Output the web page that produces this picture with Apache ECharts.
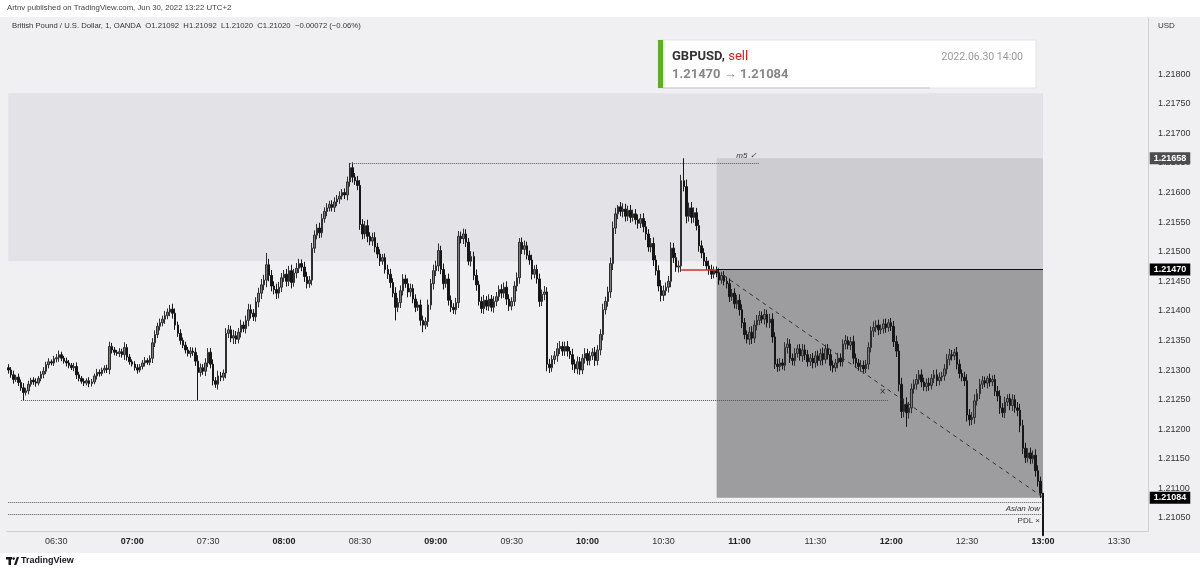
<!DOCTYPE html>
<html>
<head>
<meta charset="utf-8">
<title>GBPUSD 1m</title>
<script src="https://cdn.jsdelivr.net/npm/echarts@6/dist/echarts.min.js"></script>
<style>
html, body { margin: 0; padding: 0; background: #fff; }
#main { width: 1200px; height: 573px; }
</style>
</head>
<body>
<div id="main"></div>
<script>
// prices are kept in pips above 1.21000
var basePrice = 1.21;
var firstOpen = 30.4;

// one close per minute, 06:11 .. 13:00
var closes = [
    30.0, 29.2, 28.4, 28.8, 27.9, 27.0, 26.2, 26.5, 27.6, 28.3,
    28.0, 27.8, 28.6, 29.3, 29.8, 30.9, 31.4, 31.2, 31.9, 32.1,
    32.6, 32.0, 31.5, 31.2, 30.8, 30.4, 30.6, 29.2, 28.6, 28.1,
    27.8, 28.2, 27.7, 28.0, 29.0, 29.6, 29.4, 30.0, 30.3, 30.1,
    34.0, 33.4, 33.0, 32.8, 33.1, 32.6, 33.8, 32.2, 31.4, 31.0,
    30.4, 30.0, 30.6, 31.2, 31.6, 31.3, 32.0, 34.6, 36.0, 37.4,
    38.0, 38.6, 39.2, 39.8, 40.3, 39.6, 37.6, 36.2, 35.0, 34.2,
    33.4, 32.8, 33.2, 33.0, 31.5, 29.6, 30.4, 29.8, 31.2, 33.0,
    31.0, 28.2, 27.6, 29.0, 28.8, 29.5, 36.2, 36.8, 35.4, 35.8,
    35.2, 36.4, 37.6, 37.0, 38.4, 40.2, 39.6, 39.0, 41.5, 43.0,
    44.4, 45.2, 47.8, 46.0, 44.2, 43.6, 43.0, 44.0, 45.6, 46.2,
    45.0, 46.8, 44.8, 46.4, 47.2, 48.0, 47.4, 45.8, 44.6, 45.2,
    50.6, 52.8, 54.0, 53.2, 55.6, 56.8, 57.4, 58.0, 57.5, 58.4,
    58.9, 59.4, 60.0, 59.6, 61.8, 64.2, 62.6, 62.0, 61.2, 54.6,
    53.0, 54.4, 52.6, 51.8, 52.4, 50.8, 49.6, 48.4, 49.0, 47.0,
    46.2, 44.8, 43.0, 40.6, 41.4, 43.4, 45.4, 44.6, 43.2, 43.8,
    42.0, 40.6, 41.0, 38.4, 37.6, 38.2, 41.0, 44.6, 46.8, 47.6,
    50.2, 47.0, 44.6, 45.4, 41.8, 40.6, 40.2, 41.4, 52.6, 52.2,
    53.0, 51.6, 48.4, 49.2, 46.0, 44.4, 41.6, 40.4, 41.8, 40.8,
    42.0, 40.6, 41.6, 42.4, 43.6, 43.0, 44.0, 42.0, 40.8, 41.6,
    44.2, 45.6, 51.6, 50.4, 51.0, 49.4, 48.6, 46.2, 47.0, 45.4,
    41.6, 42.8, 43.2, 31.0, 30.4, 31.8, 32.4, 33.6, 34.0, 33.2,
    34.0, 33.2, 32.6, 31.0, 30.2, 31.4, 30.0, 32.0, 32.8, 31.6,
    32.4, 33.0, 31.6, 33.4, 36.0, 40.2, 41.6, 43.2, 48.0, 54.0,
    56.4, 57.6, 56.8, 57.2, 56.0, 57.0, 55.8, 56.4, 55.4, 54.8,
    55.6, 54.2, 53.0, 50.8, 51.4, 48.6, 46.8, 44.2, 42.6, 43.4,
    44.0, 45.0, 50.6, 49.0, 47.4, 47.6, 62.0, 61.0, 56.0, 57.4,
    55.8, 56.6, 54.4, 51.0, 49.8, 48.4, 47.6, 47.0, 46.2, 46.8,
    46.4, 45.2, 46.0, 45.0, 44.6, 42.4, 43.0, 41.2, 41.8, 40.2,
    38.0, 36.0, 35.2, 36.4, 35.4, 37.6, 38.4, 39.2, 38.6, 39.4,
    38.0, 38.6, 35.6, 31.0, 30.6, 31.2, 30.8, 33.8, 34.4, 32.0,
    31.6, 32.8, 33.6, 32.4, 33.4, 32.6, 31.4, 32.0, 31.2, 32.4,
    31.6, 32.8, 31.8, 33.6, 32.6, 30.8, 30.4, 31.2, 32.0, 31.4,
    34.4, 35.0, 34.2, 34.8, 32.0, 31.2, 30.6, 30.8, 30.2, 31.0,
    33.8, 36.6, 37.2, 37.6, 36.8, 37.0, 37.8, 37.2, 38.0, 37.4,
    34.8, 33.2, 27.6, 23.0, 24.2, 22.8, 23.6, 26.8, 27.6, 28.4,
    29.2, 28.0, 27.2, 27.8, 27.4, 28.6, 29.2, 28.2, 28.8, 29.0,
    30.2, 31.8, 32.6, 32.4, 33.0, 31.0, 29.4, 28.8, 28.2, 22.4,
    21.6, 22.0, 24.8, 26.0, 27.6, 28.2, 27.8, 28.6, 28.0, 28.4,
    26.4, 25.6, 23.6, 22.8, 24.6, 25.2, 24.0, 25.0, 23.6, 23.2,
    20.6, 16.8, 15.2, 16.0, 15.0, 15.6, 13.0, 11.2, 9.2, 2.0
];

// wick length of each candle, tenths of a pip
var wicks = [
    6, 5, 7, 4, 6, 5, 8, 5, 6, 4,
    5, 6, 4, 5, 7, 5, 6, 4, 5, 6,
    7, 5, 4, 6, 5, 4, 6, 7, 5, 4,
    5, 4, 6, 5, 4, 6, 5, 4, 5, 6,
    8, 6, 5, 4, 6, 5, 9, 6, 5, 4,
    5, 6, 4, 5, 6, 4, 5, 8, 7, 6,
    7, 6, 8, 6, 7, 9, 8, 6, 7, 5,
    6, 5, 7, 6, 8, 10, 7, 6, 8, 7,
    7, 8, 6, 9, 7, 6, 9, 8, 7, 10,
    8, 7, 9, 6, 8, 10, 9, 7, 8, 9,
    10, 9, 12, 10, 9, 8, 10, 9, 8, 7,
    9, 8, 10, 7, 9, 8, 7, 9, 8, 7,
    9, 8, 7, 9, 8, 7, 8, 6, 7, 8,
    7, 8, 6, 7, 9, 8, 9, 7, 8, 9,
    9, 8, 10, 7, 8, 9, 7, 8, 6, 7,
    8, 9, 7, 10, 8, 9, 8, 7, 9, 8,
    7, 8, 6, 9, 8, 7, 9, 8, 10, 9,
    9, 8, 10, 7, 9, 8, 7, 8, 9, 8,
    9, 8, 7, 9, 8, 10, 7, 8, 9, 7,
    8, 7, 9, 8, 7, 9, 8, 10, 8, 7,
    8, 9, 10, 8, 9, 7, 8, 9, 7, 8,
    9, 8, 10, 8, 9, 7, 8, 10, 9, 8,
    8, 9, 7, 10, 8, 9, 8, 7, 9, 8,
    8, 7, 9, 8, 9, 10, 8, 9, 10, 11,
    10, 9, 8, 10, 9, 8, 9, 7, 8, 9,
    8, 9, 10, 8, 9, 10, 8, 9, 10, 9,
    8, 9, 10, 9, 8, 9, 10, 8, 12, 9,
    10, 9, 8, 10, 9, 8, 7, 9, 8, 7,
    7, 8, 6, 7, 8, 9, 7, 8, 9, 10,
    9, 8, 7, 9, 10, 8, 9, 8, 7, 9,
    8, 9, 10, 8, 9, 8, 7, 9, 10, 8,
    8, 9, 7, 8, 10, 9, 8, 7, 9, 8,
    9, 8, 10, 7, 8, 9, 8, 7, 9, 8,
    8, 9, 7, 8, 10, 8, 7, 9, 8, 7,
    9, 8, 10, 8, 9, 7, 8, 9, 7, 8,
    9, 10, 12, 11, 10, 12, 10, 9, 8, 9,
    8, 9, 7, 8, 9, 7, 8, 9, 8, 7,
    8, 9, 10, 8, 7, 9, 8, 7, 9, 11,
    10, 9, 11, 8, 9, 8, 7, 9, 8, 7,
    8, 9, 10, 8, 9, 7, 8, 9, 8, 10,
    11, 10, 9, 8, 9, 8, 10, 9, 8, 0
];

// candles with a long wick: [index, high, low] in pips
var extremes = [
    [6, null, 24.9], [75, null, 24.9], [102, 49.8, null], [135, 65.0, null],
    [153, null, 38.4], [164, null, 36.4], [170, 51.4, null], [202, 52.3, null],
    [213, null, 29.8], [224, null, 29.5], [241, 57.9, null], [266, 63.0, null],
    [267, 65.8, null], [348, 38.6, null], [355, null, 20.4], [374, 33.6, null],
    [387, 29.0, null], [409, 9.2, 2.0]
];

var yTicks = [1.2105, 1.2110, 1.2115, 1.2120, 1.2125, 1.2130, 1.2135, 1.2140,
    1.2145, 1.2150, 1.2155, 1.2160, 1.2165, 1.2170, 1.2175, 1.2180];

var categories = [];
for (var m = 6 * 60 + 11; m <= 13 * 60 + 41; m++) {
    var hh = Math.floor(m / 60), mm = m % 60;
    categories.push((hh < 10 ? '0' : '') + hh + ':' + (mm < 10 ? '0' : '') + mm);
}

function px(p) {
    return +(basePrice + p / 10000).toFixed(5);
}

var candles = [];
for (var i = 0; i < closes.length; i++) {
    var o = i === 0 ? firstOpen : closes[i - 1];
    var c = closes[i];
    var w = wicks[i] / 10;
    candles.push([o, c, Math.min(o, c) - w, Math.max(o, c) + w]);
}
extremes.forEach(function (e) {
    if (e[1] !== null) candles[e[0]][3] = e[1];
    if (e[2] !== null) candles[e[0]][2] = e[2];
});
var candleData = candles.map(function (d) {
    return [px(d[0]), px(d[1]), px(d[2]), px(d[3])];
});

var myChart = echarts.init(document.getElementById('main'));

// price tag on the right scale: a see-through line across the plot, label at its end
function tag(value, bg) {
    return [
        {
            coord: ['06:11', value],
            lineStyle: { color: 'rgba(0,0,0,0)', width: 0, type: 'solid' },
            label: {
                show: true, position: 'end', distance: 3, opacity: 1,
                formatter: value.toFixed(5),
                backgroundColor: bg, color: '#fff',
                fontSize: 9, fontWeight: 'bold', fontFamily: 'Liberation Sans',
                padding: [2, 4, 1, 4]
            }
        },
        { coord: ['13:41', value] }
    ];
}

var dotted = { type: 'dotted', color: '#555', width: 1 };
var noteLabel = { show: true, color: '#333', fontSize: 8, fontStyle: 'italic', fontFamily: 'Liberation Sans', distance: 3 };

var option = {
    backgroundColor: '#f0f0f3',
    animation: false,
    grid: { left: 7, right: 52, top: 18, bottom: 42 },
    xAxis: {
        type: 'category',
        data: categories,
        boundaryGap: true,
        axisLine: { lineStyle: { color: '#cfcfd3' } },
        axisTick: { show: false },
        splitLine: { show: false },
        axisLabel: {
            color: '#333', fontSize: 9, fontFamily: 'Liberation Sans', margin: 6,
            interval: function (index, value) {
                var s = value.slice(3);
                return s === '00' || s === '30';
            },
            formatter: function (v) {
                return v.slice(3) === '00' ? '{b|' + v + '}' : v;
            },
            rich: { b: { fontWeight: 'bold', fontSize: 9, color: '#222', fontFamily: 'Liberation Sans' } }
        }
    },
    yAxis: {
        type: 'value',
        position: 'right',
        min: 1.21028,
        max: 1.21895,
        axisLine: { show: true, lineStyle: { color: '#cfcfd3' } },
        axisTick: { show: false },
        splitLine: { show: false },
        axisLabel: {
            customValues: yTicks,
            formatter: function (v) { return v.toFixed(5); },
            color: '#333', fontSize: 9, fontFamily: 'Liberation Sans', margin: 10
        }
    },
    series: [
        {
            type: 'line', data: [], z: 1, silent: true,
            markArea: {
                silent: true,
                data: [
                    [{ coord: ['06:11', 1.21768], itemStyle: { color: '#e3e3e7' } }, { coord: ['13:00', 1.21484] }],
                    [{ coord: ['10:51', 1.21658], itemStyle: { color: '#cdcdd1' } }, { coord: ['13:00', 1.2147] }],
                    [{ coord: ['10:51', 1.2147], itemStyle: { color: '#9d9d9f' } }, { coord: ['13:00', 1.21084] }]
                ]
            }
        },
        {
            type: 'candlestick',
            data: candleData,
            z: 2,
            barWidth: 2,
            itemStyle: {
                color: '#7c7c7c', color0: '#161616',
                borderColor: '#2e2e2e', borderColor0: '#161616',
                borderWidth: 1
            }
        },
        {
            type: 'line', data: [], z: 3, silent: true, clip: false,
            markLine: {
                silent: true,
                symbol: ['none', 'none'],
                label: { show: false },
                data: [
                    [{ coord: ['08:26', 1.2165], lineStyle: dotted,
                       label: Object.assign({ formatter: 'm5 ✓', position: 'insideEndTop' }, noteLabel) },
                     { coord: ['11:08', 1.2165] }],
                    [{ coord: ['06:16', 1.21249], lineStyle: dotted,
                       label: Object.assign({ formatter: '×', position: 'insideEndTop' }, noteLabel, { fontSize: 10, fontStyle: 'normal' }) },
                     { coord: ['11:59', 1.21249] }],
                    [{ coord: ['06:11', 1.21077], lineStyle: dotted,
                       label: Object.assign({ formatter: 'Asian low', position: 'insideEndBottom' }, noteLabel) },
                     { coord: ['13:00', 1.21077] }],
                    [{ coord: ['06:11', 1.21057], lineStyle: dotted,
                       label: Object.assign({ formatter: 'PDL ×', position: 'insideEndBottom' }, noteLabel, { fontStyle: 'normal' }) },
                     { coord: ['13:00', 1.21057] }],
                    [{ coord: ['10:37', 1.2147], lineStyle: { type: 'solid', color: '#d32f2f', width: 1.5 } },
                     { coord: ['10:51', 1.2147] }],
                    [{ coord: ['10:51', 1.2147], lineStyle: { type: 'solid', color: '#111', width: 1 } },
                     { coord: ['13:00', 1.2147] }],
                    [{ coord: ['10:51', 1.21468], lineStyle: { type: [4, 4], color: '#333', width: 1 } },
                     { coord: ['13:00', 1.21085] }],
                    tag(1.21658, '#4d4d4f'),
                    tag(1.2147, '#000'),
                    tag(1.21084, '#000')
                ]
            }
        }
    ],
    graphic: [
        { type: 'rect', shape: { x: 0, y: 0, width: 1200, height: 17 }, style: { fill: '#fff' }, silent: true },
        { type: 'rect', shape: { x: 0, y: 553, width: 1200, height: 20 }, style: { fill: '#fff' }, silent: true },
        { type: 'text', x: 7, y: 8, style: { text: 'Artnv published on TradingView.com, Jun 30, 2022 13:22 UTC+2', fill: '#444', fontSize: 7.8, fontFamily: 'Liberation Sans', verticalAlign: 'middle' } },
        { type: 'text', x: 12, y: 26, style: { text: 'British Pound / U.S. Dollar, 1, OANDA  O1.21092  H1.21092  L1.21020  C1.21020  \u22120.00072 (\u22120.06%)', fill: '#333', fontSize: 7.7, fontFamily: 'Liberation Sans', verticalAlign: 'middle' } },
        { type: 'text', x: 1158, y: 26, style: { text: 'USD', fill: '#333', fontSize: 8, fontFamily: 'Liberation Sans', verticalAlign: 'middle' } },
        // trade info box
        { type: 'rect', shape: { x: 658, y: 40, width: 378, height: 48 }, style: { fill: '#fff', stroke: '#e4e4e7', lineWidth: 1 } },
        { type: 'rect', shape: { x: 658, y: 40, width: 5, height: 48 }, style: { fill: '#5cb21e' } },
        { type: 'line', shape: { x1: 663, y1: 88, x2: 930, y2: 88 }, style: { stroke: '#c8c8cc', lineWidth: 1 } },
        { type: 'text', x: 672, y: 57, style: { text: 'GBPUSD, {s|sell}', fill: '#333', fontSize: 13, fontWeight: 'bold', fontFamily: 'Roboto', verticalAlign: 'middle',
            rich: { s: { fill: '#e21b1b', fontSize: 13, fontWeight: 'normal', fontFamily: 'Roboto' } } } },
        { type: 'text', x: 672, y: 75, style: { text: '1.21470 \u2192 1.21084', fill: '#888', fontSize: 13, fontWeight: 'bold', fontFamily: 'Roboto', verticalAlign: 'middle' } },
        { type: 'text', x: 1023, y: 57, style: { text: '2022.06.30 14:00', fill: '#999', fontSize: 10.5, fontFamily: 'Roboto', align: 'right', verticalAlign: 'middle' } },
        // footer logo
        { type: 'rect', shape: { x: 6, y: 557, width: 6, height: 2.5 }, style: { fill: '#131722' } },
        { type: 'rect', shape: { x: 8.5, y: 557, width: 2.5, height: 8 }, style: { fill: '#131722' } },
        { type: 'circle', shape: { cx: 13.6, cy: 558.6, r: 1.3 }, style: { fill: '#131722' } },
        { type: 'polygon', shape: { points: [[14, 565], [16.8, 557], [19, 557], [16.4, 565]] }, style: { fill: '#131722' } },
        { type: 'text', x: 21, y: 561, style: { text: 'TradingView', fill: '#131722', fontSize: 9, fontWeight: 'bold', fontFamily: 'Liberation Sans', verticalAlign: 'middle' } }
    ]
};

myChart.setOption(option);
window.onresize = function () {
    myChart.resize();
};
</script>
</body>
</html>
